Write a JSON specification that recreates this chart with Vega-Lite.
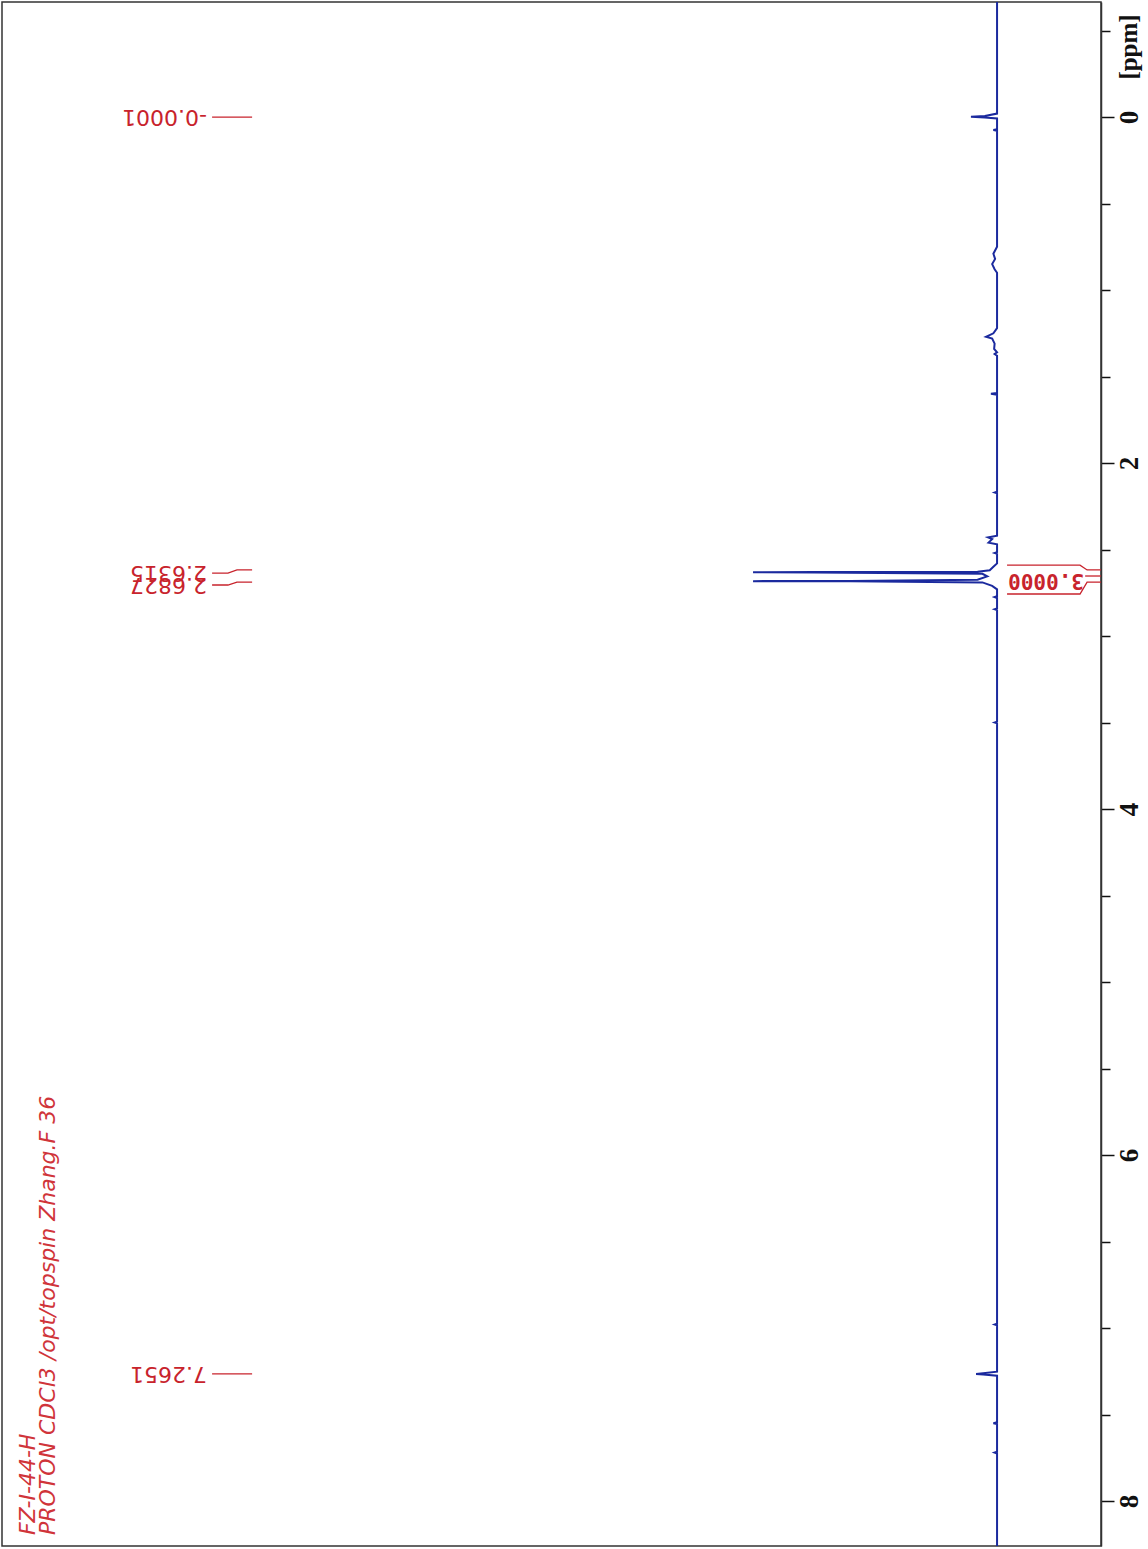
{
  "$schema": "https://vega.github.io/schema/vega-lite/v6.json",
  "width": 1099,
  "height": 1544,
  "autosize": {"type": "none"},
  "padding": {"left": 2, "top": 2, "right": 47, "bottom": 3},
  "background": "white",
  "config": {"view": {"stroke": "#333333", "strokeWidth": 1.5}},
  "datasets": {
    "spectrum": [
      {"ppm": -0.665, "I": 0}, {"ppm": -0.02, "I": 0}, {"ppm": -0.006, "I": 5}, {"ppm": -0.001, "I": 10.7}, {"ppm": 0.002, "I": 5}, {"ppm": 0.008, "I": 0},
      {"ppm": 0.07, "I": 0}, {"ppm": 0.075, "I": 1.5}, {"ppm": 0.08, "I": 0},
      {"ppm": 0.75, "I": 0}, {"ppm": 0.79, "I": 1.5}, {"ppm": 0.82, "I": 0.8}, {"ppm": 0.85, "I": 2}, {"ppm": 0.88, "I": 1}, {"ppm": 0.9, "I": 0},
      {"ppm": 1.22, "I": 0}, {"ppm": 1.25, "I": 1.5}, {"ppm": 1.27, "I": 4.5}, {"ppm": 1.28, "I": 2}, {"ppm": 1.31, "I": 1}, {"ppm": 1.34, "I": 1.2}, {"ppm": 1.36, "I": 0}, {"ppm": 1.37, "I": 1}, {"ppm": 1.38, "I": 0},
      {"ppm": 1.595, "I": 0}, {"ppm": 1.6, "I": 2.5}, {"ppm": 1.605, "I": 0},
      {"ppm": 2.165, "I": 0}, {"ppm": 2.17, "I": 1}, {"ppm": 2.175, "I": 0},
      {"ppm": 2.42, "I": 0}, {"ppm": 2.43, "I": 3.7}, {"ppm": 2.44, "I": 2}, {"ppm": 2.46, "I": 3.5}, {"ppm": 2.47, "I": 0},
      {"ppm": 2.515, "I": 0}, {"ppm": 2.52, "I": 1}, {"ppm": 2.525, "I": 0},
      {"ppm": 2.58, "I": 0}, {"ppm": 2.6, "I": 1.5}, {"ppm": 2.62, "I": 3}, {"ppm": 2.628, "I": 8}, {"ppm": 2.6305, "I": 75}, {"ppm": 2.6315, "I": 100}, {"ppm": 2.6325, "I": 75}, {"ppm": 2.64, "I": 6},
      {"ppm": 2.655, "I": 4}, {"ppm": 2.675, "I": 8}, {"ppm": 2.6815, "I": 60}, {"ppm": 2.6827, "I": 100}, {"ppm": 2.684, "I": 60}, {"ppm": 2.69, "I": 6}, {"ppm": 2.71, "I": 2}, {"ppm": 2.73, "I": 0},
      {"ppm": 2.77, "I": 0}, {"ppm": 2.775, "I": 1}, {"ppm": 2.78, "I": 0}, {"ppm": 2.84, "I": 0}, {"ppm": 2.845, "I": 1}, {"ppm": 2.85, "I": 0},
      {"ppm": 3.495, "I": 0}, {"ppm": 3.5, "I": 1}, {"ppm": 3.505, "I": 0},
      {"ppm": 6.975, "I": 0}, {"ppm": 6.98, "I": 1}, {"ppm": 6.985, "I": 0},
      {"ppm": 7.252, "I": 0}, {"ppm": 7.261, "I": 5.7}, {"ppm": 7.2651, "I": 8.6}, {"ppm": 7.268, "I": 5.7}, {"ppm": 7.276, "I": 0},
      {"ppm": 7.545, "I": 0}, {"ppm": 7.55, "I": 1.5}, {"ppm": 7.555, "I": 0},
      {"ppm": 7.715, "I": 0}, {"ppm": 7.72, "I": 1}, {"ppm": 7.725, "I": 0},
      {"ppm": 8.26, "I": 0}
    ],
    "peaklabels": [
      {"label": "-0.0001", "pos": -0.0001},
      {"label": "2.6315", "pos": 2.636},
      {"label": "2.6827", "pos": 2.705},
      {"label": "7.2651", "pos": 7.2651}
    ],
    "connectors": [
      {"g": "a", "k": 1, "I": 321.7, "ppm": -0.0001}, {"g": "a", "k": 2, "I": 305.3, "ppm": -0.0001},
      {"g": "b", "k": 1, "I": 321.7, "ppm": 2.636}, {"g": "b", "k": 2, "I": 315.2, "ppm": 2.636}, {"g": "b", "k": 3, "I": 311.5, "ppm": 2.618}, {"g": "b", "k": 4, "I": 305.3, "ppm": 2.618},
      {"g": "c", "k": 1, "I": 321.7, "ppm": 2.705}, {"g": "c", "k": 2, "I": 315.2, "ppm": 2.705}, {"g": "c", "k": 3, "I": 311.5, "ppm": 2.688}, {"g": "c", "k": 4, "I": 305.3, "ppm": 2.688},
      {"g": "d", "k": 1, "I": 321.7, "ppm": 7.2651}, {"g": "d", "k": 2, "I": 305.3, "ppm": 7.2651}
    ],
    "integral": [
      {"g": "top", "k": 1, "I": -4.1, "ppm": 2.59}, {"g": "top", "k": 2, "I": -34.0, "ppm": 2.59}, {"g": "top", "k": 3, "I": -36.9, "ppm": 2.618}, {"g": "top", "k": 4, "I": -42.6, "ppm": 2.618},
      {"g": "bot", "k": 1, "I": -4.1, "ppm": 2.757}, {"g": "bot", "k": 2, "I": -34.0, "ppm": 2.757}, {"g": "bot", "k": 3, "I": -36.9, "ppm": 2.688}, {"g": "bot", "k": 4, "I": -42.6, "ppm": 2.688},
      {"g": "mid", "k": 1, "I": -36.1, "ppm": 2.653}, {"g": "mid", "k": 2, "I": -42.6, "ppm": 2.653}
    ],
    "integralvalue": [{"value": "3.0000", "I": -20.1, "ppm": 2.676}],
    "title": [
      {"text": "FZ-I-44-H", "I": 397.1, "ppm": 8.197},
      {"text": "PROTON CDCl3 /opt/topspin Zhang.F 36", "I": 388.9, "ppm": 8.197}
    ],
    "unit": [{"text": "[ppm]", "I": -49.2, "ppm": -0.405}]
  },
  "layer": [
    {
      "data": {"name": "spectrum"},
      "mark": {"type": "line", "color": "#1b2a9e", "strokeWidth": 2},
      "encoding": {
        "x": {"field": "I", "type": "quantitative", "scale": {"domain": [-42.6, 407.8], "reverse": true, "nice": false, "zero": false}, "axis": null},
        "y": {"field": "ppm", "type": "quantitative", "scale": {"domain": [-0.665, 8.26], "reverse": true, "nice": false, "zero": false},
          "axis": {"orient": "right", "title": null, "values": [-0.5, 0, 0.5, 1, 1.5, 2, 2.5, 3, 3.5, 4, 4.5, 5, 5.5, 6, 6.5, 7, 7.5, 8],
            "labelExpr": "datum.value % 2 === 0 ? format(datum.value, 'd') : ''",
            "tickSize": {"condition": {"test": "datum.value % 2 === 0", "value": 13}, "value": 9},
            "tickColor": "#111111", "tickWidth": 1.5, "domainColor": "#333333", "domainWidth": 1.5,
            "labelAngle": 270, "labelAlign": "center", "labelBaseline": "top", "labelPadding": 2,
            "labelFont": "Liberation Serif", "labelFontSize": 27, "labelFontWeight": "bold", "labelColor": "#111111", "grid": false, "labelOverlap": false}},
        "order": {"field": "ppm", "type": "quantitative"}
      }
    },
    {
      "data": {"name": "peaklabels"},
      "mark": {"type": "text", "angle": 180, "align": "left", "baseline": "middle", "font": "DejaVu Sans", "fontSize": 22, "color": "#c8232c"},
      "encoding": {
        "x": {"datum": 323.8, "type": "quantitative", "scale": {"domain": [-42.6, 407.8], "reverse": true, "nice": false, "zero": false}, "axis": null},
        "y": {"field": "pos", "type": "quantitative", "scale": {"domain": [-0.665, 8.26], "reverse": true, "nice": false, "zero": false},
          "axis": {"orient": "right", "title": null, "values": [-0.5, 0, 0.5, 1, 1.5, 2, 2.5, 3, 3.5, 4, 4.5, 5, 5.5, 6, 6.5, 7, 7.5, 8],
            "labelExpr": "datum.value % 2 === 0 ? format(datum.value, 'd') : ''",
            "tickSize": {"condition": {"test": "datum.value % 2 === 0", "value": 13}, "value": 9},
            "tickColor": "#111111", "tickWidth": 1.5, "domainColor": "#333333", "domainWidth": 1.5,
            "labelAngle": 270, "labelAlign": "center", "labelBaseline": "top", "labelPadding": 2,
            "labelFont": "Liberation Serif", "labelFontSize": 27, "labelFontWeight": "bold", "labelColor": "#111111", "grid": false, "labelOverlap": false}},
        "text": {"field": "label"}
      }
    },
    {
      "data": {"name": "connectors"},
      "mark": {"type": "line", "color": "#c8232c", "strokeWidth": 1.3},
      "encoding": {
        "x": {"field": "I", "type": "quantitative", "scale": {"domain": [-42.6, 407.8], "reverse": true, "nice": false, "zero": false}, "axis": null},
        "y": {"field": "ppm", "type": "quantitative", "scale": {"domain": [-0.665, 8.26], "reverse": true, "nice": false, "zero": false},
          "axis": {"orient": "right", "title": null, "values": [-0.5, 0, 0.5, 1, 1.5, 2, 2.5, 3, 3.5, 4, 4.5, 5, 5.5, 6, 6.5, 7, 7.5, 8],
            "labelExpr": "datum.value % 2 === 0 ? format(datum.value, 'd') : ''",
            "tickSize": {"condition": {"test": "datum.value % 2 === 0", "value": 13}, "value": 9},
            "tickColor": "#111111", "tickWidth": 1.5, "domainColor": "#333333", "domainWidth": 1.5,
            "labelAngle": 270, "labelAlign": "center", "labelBaseline": "top", "labelPadding": 2,
            "labelFont": "Liberation Serif", "labelFontSize": 27, "labelFontWeight": "bold", "labelColor": "#111111", "grid": false, "labelOverlap": false}},
        "detail": {"field": "g"},
        "order": {"field": "k", "type": "quantitative"}
      }
    },
    {
      "data": {"name": "integral"},
      "mark": {"type": "line", "color": "#c8232c", "strokeWidth": 1.3},
      "encoding": {
        "x": {"field": "I", "type": "quantitative", "scale": {"domain": [-42.6, 407.8], "reverse": true, "nice": false, "zero": false}, "axis": null},
        "y": {"field": "ppm", "type": "quantitative", "scale": {"domain": [-0.665, 8.26], "reverse": true, "nice": false, "zero": false},
          "axis": {"orient": "right", "title": null, "values": [-0.5, 0, 0.5, 1, 1.5, 2, 2.5, 3, 3.5, 4, 4.5, 5, 5.5, 6, 6.5, 7, 7.5, 8],
            "labelExpr": "datum.value % 2 === 0 ? format(datum.value, 'd') : ''",
            "tickSize": {"condition": {"test": "datum.value % 2 === 0", "value": 13}, "value": 9},
            "tickColor": "#111111", "tickWidth": 1.5, "domainColor": "#333333", "domainWidth": 1.5,
            "labelAngle": 270, "labelAlign": "center", "labelBaseline": "top", "labelPadding": 2,
            "labelFont": "Liberation Serif", "labelFontSize": 27, "labelFontWeight": "bold", "labelColor": "#111111", "grid": false, "labelOverlap": false}},
        "detail": {"field": "g"},
        "order": {"field": "k", "type": "quantitative"}
      }
    },
    {
      "data": {"name": "integralvalue"},
      "mark": {"type": "text", "angle": 180, "align": "center", "baseline": "middle", "font": "DejaVu Sans Mono", "fontSize": 21, "fontWeight": "bold", "color": "#c8232c"},
      "encoding": {
        "x": {"field": "I", "type": "quantitative", "scale": {"domain": [-42.6, 407.8], "reverse": true, "nice": false, "zero": false}, "axis": null},
        "y": {"field": "ppm", "type": "quantitative", "scale": {"domain": [-0.665, 8.26], "reverse": true, "nice": false, "zero": false},
          "axis": {"orient": "right", "title": null, "values": [-0.5, 0, 0.5, 1, 1.5, 2, 2.5, 3, 3.5, 4, 4.5, 5, 5.5, 6, 6.5, 7, 7.5, 8],
            "labelExpr": "datum.value % 2 === 0 ? format(datum.value, 'd') : ''",
            "tickSize": {"condition": {"test": "datum.value % 2 === 0", "value": 13}, "value": 9},
            "tickColor": "#111111", "tickWidth": 1.5, "domainColor": "#333333", "domainWidth": 1.5,
            "labelAngle": 270, "labelAlign": "center", "labelBaseline": "top", "labelPadding": 2,
            "labelFont": "Liberation Serif", "labelFontSize": 27, "labelFontWeight": "bold", "labelColor": "#111111", "grid": false, "labelOverlap": false}},
        "text": {"field": "value"}
      }
    },
    {
      "data": {"name": "title"},
      "mark": {"type": "text", "angle": 270, "align": "left", "baseline": "middle", "font": "DejaVu Sans", "fontStyle": "italic", "fontSize": 22, "color": "#d0343a"},
      "encoding": {
        "x": {"field": "I", "type": "quantitative", "scale": {"domain": [-42.6, 407.8], "reverse": true, "nice": false, "zero": false}, "axis": null},
        "y": {"field": "ppm", "type": "quantitative", "scale": {"domain": [-0.665, 8.26], "reverse": true, "nice": false, "zero": false},
          "axis": {"orient": "right", "title": null, "values": [-0.5, 0, 0.5, 1, 1.5, 2, 2.5, 3, 3.5, 4, 4.5, 5, 5.5, 6, 6.5, 7, 7.5, 8],
            "labelExpr": "datum.value % 2 === 0 ? format(datum.value, 'd') : ''",
            "tickSize": {"condition": {"test": "datum.value % 2 === 0", "value": 13}, "value": 9},
            "tickColor": "#111111", "tickWidth": 1.5, "domainColor": "#333333", "domainWidth": 1.5,
            "labelAngle": 270, "labelAlign": "center", "labelBaseline": "top", "labelPadding": 2,
            "labelFont": "Liberation Serif", "labelFontSize": 27, "labelFontWeight": "bold", "labelColor": "#111111", "grid": false, "labelOverlap": false}},
        "text": {"field": "text"}
      }
    },
    {
      "data": {"name": "unit"},
      "mark": {"type": "text", "angle": 270, "align": "center", "baseline": "top", "font": "Liberation Serif", "fontSize": 25, "fontWeight": "bold", "color": "#111111"},
      "encoding": {
        "x": {"field": "I", "type": "quantitative", "scale": {"domain": [-42.6, 407.8], "reverse": true, "nice": false, "zero": false}, "axis": null},
        "y": {"field": "ppm", "type": "quantitative", "scale": {"domain": [-0.665, 8.26], "reverse": true, "nice": false, "zero": false},
          "axis": {"orient": "right", "title": null, "values": [-0.5, 0, 0.5, 1, 1.5, 2, 2.5, 3, 3.5, 4, 4.5, 5, 5.5, 6, 6.5, 7, 7.5, 8],
            "labelExpr": "datum.value % 2 === 0 ? format(datum.value, 'd') : ''",
            "tickSize": {"condition": {"test": "datum.value % 2 === 0", "value": 13}, "value": 9},
            "tickColor": "#111111", "tickWidth": 1.5, "domainColor": "#333333", "domainWidth": 1.5,
            "labelAngle": 270, "labelAlign": "center", "labelBaseline": "top", "labelPadding": 2,
            "labelFont": "Liberation Serif", "labelFontSize": 27, "labelFontWeight": "bold", "labelColor": "#111111", "grid": false, "labelOverlap": false}},
        "text": {"field": "text"}
      }
    }
  ]
}
